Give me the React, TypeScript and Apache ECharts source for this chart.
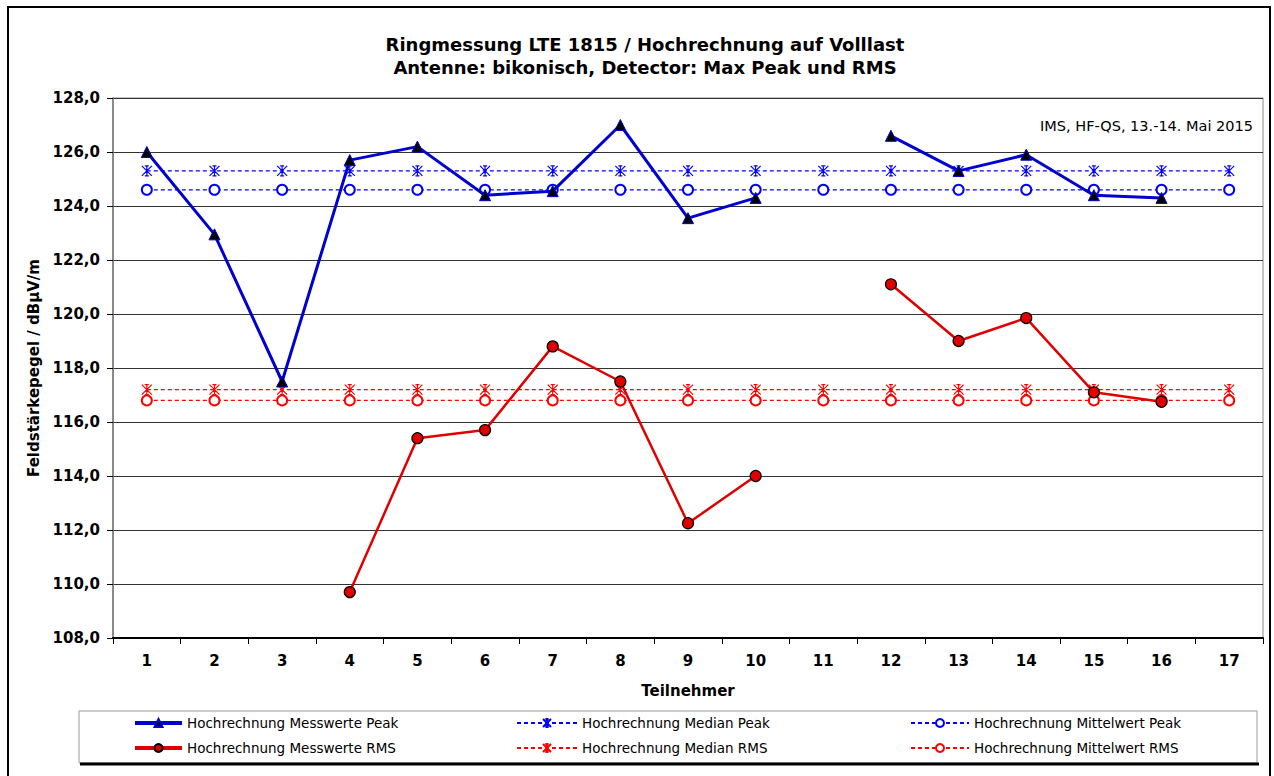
import React, { useEffect, useRef } from "react";
import * as echarts from "echarts";

const categories = ["1", "2", "3", "4", "5", "6", "7", "8", "9", "10", "11", "12", "13", "14", "15", "16", "17"];
const peakValues = [126.0, 122.95, 117.5, 125.7, 126.2, 124.4, 124.55, 127.0, 123.55, 124.3, null, 126.6, 125.3, 125.9, 124.4, 124.3, null];
const rmsValues = [null, null, null, 109.7, 115.4, 115.7, 118.8, 117.5, 112.25, 114.0, null, 121.1, 119.0, 119.85, 117.1, 116.75, null];
const medianPeak = [125.3, 125.3, 125.3, 125.3, 125.3, 125.3, 125.3, 125.3, 125.3, 125.3, 125.3, 125.3, 125.3, 125.3, 125.3, 125.3, 125.3];
const meanPeak = [124.6, 124.6, 124.6, 124.6, 124.6, 124.6, 124.6, 124.6, 124.6, 124.6, 124.6, 124.6, 124.6, 124.6, 124.6, 124.6, 124.6];
const medianRms = [117.2, 117.2, 117.2, 117.2, 117.2, 117.2, 117.2, 117.2, 117.2, 117.2, 117.2, 117.2, 117.2, 117.2, 117.2, 117.2, 117.2];
const meanRms = [116.8, 116.8, 116.8, 116.8, 116.8, 116.8, 116.8, 116.8, 116.8, 116.8, 116.8, 116.8, 116.8, 116.8, 116.8, 116.8, 116.8];

const titleText = "Ringmessung LTE 1815 / Hochrechnung auf Volllast\nAntenne: bikonisch, Detector: Max Peak und RMS";
const noteText = "IMS, HF-QS, 13.-14. Mai 2015";
const xName = "Teilnehmer";
const yName = "Feldstärkepegel / dBµV/m";
const names = {
  peak: "Hochrechnung Messwerte Peak",
  rms: "Hochrechnung Messwerte RMS",
  medPeak: "Hochrechnung Median Peak",
  medRms: "Hochrechnung Median RMS",
  meanPeak: "Hochrechnung Mittelwert Peak",
  meanRms: "Hochrechnung Mittelwert RMS",
};

const STAR = "path://M0,0L10,10M10,0L0,10M5,0L5,10M3,0L7,0M3,10L7,10";
const BLUE = "#0000FF";
const RED = "#FF0000";
const FONT = "DejaVu Sans";

export default function App() {
  const ref = useRef<HTMLDivElement>(null);
  useEffect(() => {
    document.body.style.margin = "0";
    const chart = echarts.init(ref.current!, null, { renderer: "svg" });
    const dashed = (name: string, data: number[], color: string, symbol: string, size: number) => ({
      name,
      type: "line",
      data,
      symbol,
      symbolSize: size,
      showSymbol: true,
      lineStyle: { color, width: 1.2, type: [4, 3] },
      itemStyle: { color, borderColor: color, borderWidth: 1.2 },
      emphasis: { disabled: true },
      z: 2,
    });
    const legendText = { fontFamily: FONT, fontSize: 13.5, color: "#000" };
    const legendBase = {
      orient: "vertical",
      top: 716,
      padding: 0,
      itemHeight: 10,
      itemGap: 11,
      selectedMode: false,
      textStyle: legendText,
    };
    chart.setOption({
      animation: false,
      backgroundColor: "#fff",
      title: {
        text: titleText,
        left: 640,
        textAlign: "center",
        top: 28,
        textStyle: { fontFamily: FONT, fontWeight: "bold", fontSize: 18, lineHeight: 23, color: "#000" },
      },
      grid: { left: 113, right: 11, top: 98, bottom: 138, show: true, borderColor: "#8a8a8a", borderWidth: 1 },
      xAxis: {
        type: "category",
        data: categories,
        boundaryGap: true,
        name: xName,
        nameLocation: "middle",
        nameGap: 45,
        nameTextStyle: { fontFamily: FONT, fontWeight: "bold", fontSize: 15, color: "#000" },
        axisLine: { lineStyle: { color: "#000", width: 2 } },
        axisTick: { show: true, length: 6, lineStyle: { color: "#000", width: 1 } },
        axisLabel: { margin: 15, fontFamily: FONT, fontWeight: "bold", fontSize: 15, color: "#000" },
        splitLine: { show: false },
      },
      yAxis: {
        type: "value",
        min: 108,
        max: 128,
        interval: 2,
        name: yName,
        nameLocation: "middle",
        nameGap: 64,
        nameTextStyle: { fontFamily: FONT, fontWeight: "bold", fontSize: 15, color: "#000" },
        axisLine: { show: true, lineStyle: { color: "#777", width: 1.5 } },
        axisTick: { show: true, length: 6, lineStyle: { color: "#000" } },
        axisLabel: {
          margin: 13,
          fontFamily: FONT,
          fontWeight: "bold",
          fontSize: 15,
          color: "#000",
          formatter: (v: number) => v.toFixed(1).replace(".", ","),
        },
        splitLine: { show: true, lineStyle: { color: "#333", width: 1 } },
      },
      legend: [
        {
          ...legendBase,
          left: 133,
          itemWidth: 47,
          data: [
            { name: names.peak, lineStyle: { width: 4, color: "#0000D0" } },
            { name: names.rms, lineStyle: { width: 4, color: "#E00000" } },
          ],
        },
        {
          ...legendBase,
          left: 516,
          itemWidth: 60,
          data: [names.medPeak, names.medRms],
        },
        {
          ...legendBase,
          left: 910,
          itemWidth: 58,
          data: [names.meanPeak, names.meanRms],
        },
      ],
      graphic: [
        {
          type: "rect",
          silent: true,
          shape: { x: 8, y: 7, width: 1262, height: 800 },
          style: { fill: "none", stroke: "#000", lineWidth: 2 },
          z: 0,
        },
        {
          type: "rect",
          silent: true,
          shape: { x: 79, y: 711, width: 1178, height: 52 },
          style: { fill: "none", stroke: "#9a9a9a", lineWidth: 1 },
        },
        {
          type: "line",
          silent: true,
          shape: { x1: 80, y1: 764, x2: 1259, y2: 764 },
          style: { stroke: "#000", lineWidth: 3 },
        },
        {
          type: "text",
          silent: true,
          x: 1253,
          y: 126,
          style: {
            text: noteText,
            fontFamily: FONT,
            fontSize: 14.5,
            fill: "#000",
            align: "right",
            verticalAlign: "middle",
          },
        },
      ],
      series: [
        dashed(names.medPeak, medianPeak, BLUE, STAR, 10),
        dashed(names.meanPeak, meanPeak, BLUE, "emptyCircle", 10),
        dashed(names.medRms, medianRms, RED, STAR, 10),
        dashed(names.meanRms, meanRms, RED, "emptyCircle", 10),
        {
          name: names.peak,
          type: "line",
          data: peakValues,
          connectNulls: false,
          symbol: "triangle",
          symbolSize: 11,
          lineStyle: { color: "#0000D0", width: 3 },
          itemStyle: { color: "#000", borderColor: "#0000D0", borderWidth: 1 },
          emphasis: { disabled: true },
          z: 5,
        },
        {
          name: names.rms,
          type: "line",
          data: rmsValues,
          connectNulls: false,
          symbol: "circle",
          symbolSize: 11,
          lineStyle: { color: "#E00000", width: 2.5 },
          itemStyle: { color: "#E00000", borderColor: "#000", borderWidth: 1.2 },
          emphasis: { disabled: true },
          z: 5,
        },
      ],
    });
    return () => chart.dispose();
  }, []);
  return <div ref={ref} style={{ width: 1274, height: 776, position: "absolute", left: 0, top: 0 }} />;
}
